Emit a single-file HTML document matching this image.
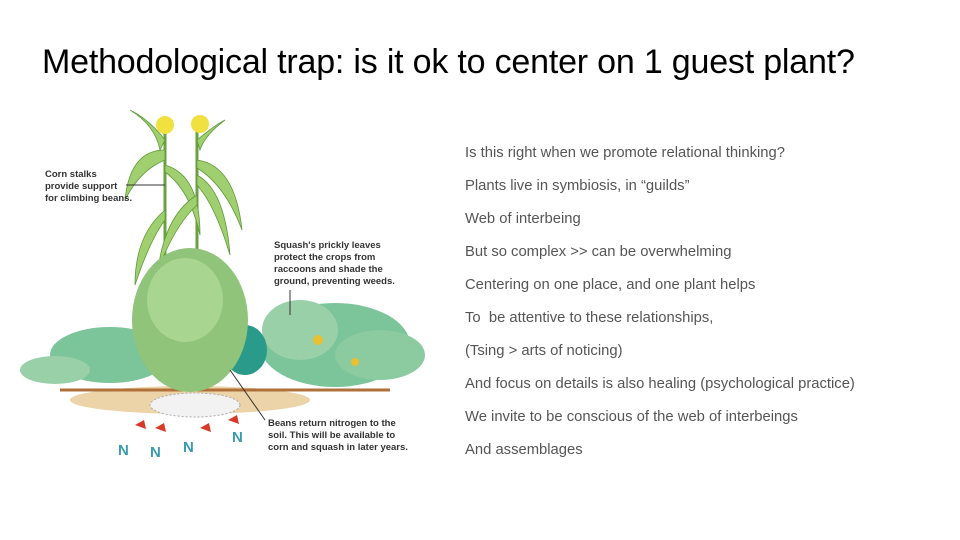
<!DOCTYPE html>
<html><head><meta charset="utf-8"><style>
body{margin:0;width:960px;height:540px;background:#fff;overflow:hidden;position:relative;font-family:"Liberation Sans",sans-serif}
h1{position:absolute;left:42px;top:43px;margin:0;font-weight:normal;font-size:34px;color:#000;letter-spacing:-0.2px;white-space:nowrap}
.r{position:absolute;left:465px;font-size:14.8px;color:#555;white-space:nowrap}
svg{position:absolute;left:0;top:0}
.lb{font-family:"Liberation Sans",sans-serif;font-size:9.5px;font-weight:bold;fill:#333}
</style></head><body>
<h1>Methodological trap: is it ok to center on 1 guest plant?</h1>
<div class="r" style="top:145px">Is this right when we promote relational thinking?</div>
<div class="r" style="top:178px">Plants live in symbiosis, in “guilds”</div>
<div class="r" style="top:211px">Web of interbeing</div>
<div class="r" style="top:244px">But so complex &gt;&gt; can be overwhelming</div>
<div class="r" style="top:277px">Centering on one place, and one plant helps</div>
<div class="r" style="top:310px">To&nbsp; be attentive to these relationships,</div>
<div class="r" style="top:343px">(Tsing &gt; arts of noticing)</div>
<div class="r" style="top:376px">And focus on details is also healing (psychological practice)</div>
<div class="r" style="top:409px">We invite to be conscious of the web of interbeings</div>
<div class="r" style="top:442px">And assemblages</div>
<svg width="960" height="540">
<ellipse cx="190" cy="400" rx="120" ry="14" fill="#ecd3a8"/>
<path d="M60 390 L390 390" stroke="#b0703a" stroke-width="3"/>
<ellipse cx="195" cy="405" rx="45" ry="12" fill="#f2f2f2" stroke="#aaa" stroke-dasharray="2 2"/>
<!-- corn -->
<path d="M165 130 L165 330 M197 130 L197 330" stroke="#6aa040" stroke-width="3"/>
<g fill="#9fcf6e" stroke="#5f9a3a" stroke-width="0.8">
<path d="M165 150 Q130 150 125 200 Q140 170 165 160z"/>
<path d="M165 165 Q200 175 200 235 Q190 190 165 172z"/>
<path d="M197 160 Q235 165 242 230 Q225 185 197 168z"/>
<path d="M197 195 Q165 215 158 270 Q175 225 197 205z"/>
<path d="M165 210 Q135 235 135 285 Q150 240 165 220z"/>
<path d="M197 175 Q225 190 230 255 Q215 205 197 185z"/>
<path d="M165 140 Q150 120 130 110 Q155 125 160 150z"/>
<path d="M197 140 Q215 125 225 120 Q205 135 200 150z"/>
</g>
<circle cx="165" cy="125" r="9" fill="#f0e040"/><circle cx="200" cy="124" r="9" fill="#f0e040"/>
<!-- squash left -->
<ellipse cx="110" cy="355" rx="60" ry="28" fill="#7cc49a"/>
<ellipse cx="55" cy="370" rx="35" ry="14" fill="#9ad0a8"/>
<!-- squash right -->
<ellipse cx="335" cy="345" rx="75" ry="42" fill="#7cc49a"/>
<ellipse cx="300" cy="330" rx="38" ry="30" fill="#9ad0a8"/>
<ellipse cx="380" cy="355" rx="45" ry="25" fill="#8ccaa0"/>
<ellipse cx="245" cy="350" rx="22" ry="25" fill="#2a9a8a"/>
<circle cx="318" cy="340" r="5" fill="#e8c030"/><circle cx="355" cy="362" r="4" fill="#e8c030"/>
<!-- bean mass -->
<ellipse cx="190" cy="320" rx="58" ry="72" fill="#8fc47a"/>
<ellipse cx="185" cy="300" rx="38" ry="42" fill="#a8d590"/>
<!-- arrows + N -->
<g fill="#d83a2a"><path d="M135 425 l9 -5 2 9 z"/><path d="M155 428 l9 -5 2 9 z"/><path d="M200 428 l9 -5 2 9 z"/><path d="M228 420 l9 -5 2 9 z"/></g>
<g fill="#3a9ab0" font-weight="bold" font-size="15" font-family="Liberation Sans"><text x="118" y="455">N</text><text x="150" y="457">N</text><text x="183" y="452">N</text><text x="232" y="442">N</text></g>
<!-- labels -->
<line x1="126" y1="185" x2="165" y2="185" stroke="#333"/>
<text class="lb" x="45" y="177">Corn stalks</text><text class="lb" x="45" y="189">provide support</text><text class="lb" x="45" y="201">for climbing beans.</text>
<line x1="290" y1="290" x2="290" y2="315" stroke="#333"/>
<text class="lb" x="274" y="248">Squash's prickly leaves</text><text class="lb" x="274" y="260">protect the crops from</text><text class="lb" x="274" y="272">raccoons and shade the</text><text class="lb" x="274" y="284">ground, preventing weeds.</text>
<line x1="230" y1="370" x2="265" y2="420" stroke="#333"/>
<text class="lb" x="268" y="426">Beans return nitrogen to the</text><text class="lb" x="268" y="438">soil. This will be available to</text><text class="lb" x="268" y="450">corn and squash in later years.</text>
</svg>
</body></html>
